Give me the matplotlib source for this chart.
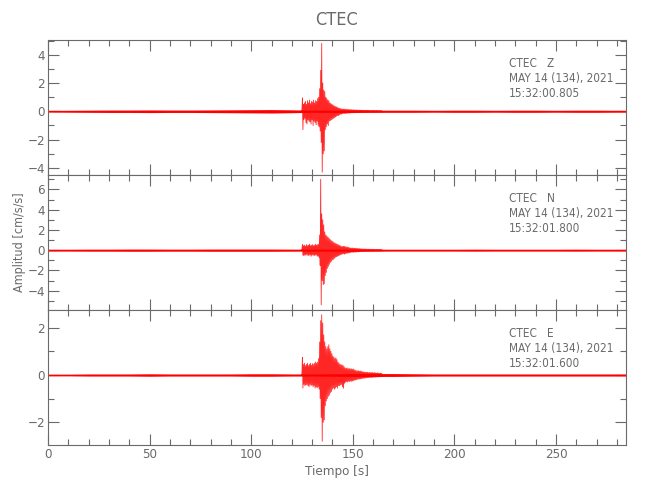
import numpy as np
import matplotlib
matplotlib.use("Agg")
import matplotlib.pyplot as plt
from matplotlib.ticker import MultipleLocator

plt.rcParams['font.family'] = ['DejaVu Sans']
plt.rcParams['font.stretch'] = 'condensed'

# --- datos ---
station = "CTEC"
components = ["Z", "N", "E"]
fecha = "MAY 14 (134), 2021"
horas = ["15:32:00.805", "15:32:01.800", "15:32:01.600"]
t_max = 284.4

# ruido de fondo (cada 10 s)
t_bg = [0, 10, 20, 30, 40, 50, 60, 70, 80, 90, 100, 110, 120, 130, 140,
        150, 160, 170, 180, 190, 200, 210, 220, 230, 240, 250, 260, 270, 280, 284.4]
z_bg = [0.05, 0.06, 0.07, 0.08, 0.08, 0.09, 0.08, 0.08, 0.09, 0.1, 0.11, 0.12, 0.1, 0.07, 0.08,
        0.08, 0.07, 0.07, 0.07, 0.06, 0.07, 0.07, 0.06, 0.07, 0.07, 0.06, 0.07, 0.07, 0.06, 0.06]
n_bg = [0.08, 0.08, 0.09, 0.09, 0.1, 0.1, 0.09, 0.09, 0.1, 0.1, 0.1, 0.1, 0.09, 0.08, 0.09,
        0.09, 0.09, 0.08, 0.08, 0.08, 0.08, 0.09, 0.08, 0.08, 0.08, 0.08, 0.09, 0.08, 0.08, 0.08]
e_bg = [0.03, 0.03, 0.04, 0.04, 0.04, 0.05, 0.04, 0.04, 0.04, 0.04, 0.05, 0.05, 0.04, 0.04, 0.05,
        0.06, 0.06, 0.06, 0.05, 0.04, 0.04, 0.04, 0.04, 0.04, 0.04, 0.04, 0.04, 0.04, 0.04, 0.04]

# evento: maximos / minimos cada 0.5 s desde t0
t0 = 124.7
dt = 0.5
z_hi = [0.05, 0.95, 0.5, 0.6, 0.7, 0.5, 0.75, 0.6, 0.8, 0.55,
        0.7, 0.65, 0.8, 0.6, 0.75, 0.7, 0.9, 1.0, 1.6, 2.9,
        4.8, 2.0, 1.5, 1.4, 1.0, 0.9, 0.8, 0.75, 0.6, 0.55,
        0.5, 0.45, 0.4, 0.35, 0.33, 0.3, 0.25, 0.22, 0.2, 0.18,
        0.16, 0.15, 0.17, 0.14, 0.13, 0.15, 0.12, 0.13, 0.11, 0.12,
        0.1, 0.11, 0.1, 0.09, 0.1, 0.09, 0.08, 0.09, 0.08, 0.08,
        0.08, 0.07, 0.08, 0.07, 0.07, 0.08, 0.07, 0.07, 0.06, 0.07,
        0.06, 0.07, 0.06, 0.06, 0.07, 0.06, 0.06, 0.06, 0.05, 0.06]
z_lo = [-0.05, -1.3, -0.6, -0.5, -0.8, -0.9, -0.6, -0.7, -0.75, -0.9,
        -0.6, -1.0, -0.7, -0.8, -0.95, -0.7, -1.0, -1.1, -1.4, -2.2,
        -4.3, -3.0, -2.8, -1.3, -1.1, -0.9, -1.0, -0.7, -0.65, -0.6,
        -0.55, -0.5, -0.45, -0.4, -0.35, -0.3, -0.3, -0.25, -0.2, -0.2,
        -0.17, -0.15, -0.16, -0.14, -0.15, -0.13, -0.12, -0.13, -0.12, -0.11,
        -0.11, -0.1, -0.1, -0.1, -0.09, -0.09, -0.09, -0.08, -0.08, -0.08,
        -0.07, -0.08, -0.07, -0.07, -0.08, -0.07, -0.07, -0.06, -0.07, -0.06,
        -0.06, -0.06, -0.07, -0.06, -0.06, -0.05, -0.06, -0.05, -0.06, -0.05]
n_hi = [0.05, 0.55, 0.45, 0.5, 0.4, 0.55, 0.45, 0.5, 0.6, 0.45,
        0.5, 0.55, 0.45, 0.5, 0.6, 0.5, 0.55, 0.6, 1.5, 7.0,
        3.6, 3.0, 2.5, 1.8, 1.5, 1.4, 1.3, 1.2, 1.1, 1.0,
        0.9, 0.85, 0.75, 0.7, 0.65, 0.6, 0.55, 0.5, 0.45, 0.4,
        0.35, 0.38, 0.4, 0.35, 0.3, 0.32, 0.28, 0.25, 0.22, 0.2,
        0.22, 0.2, 0.18, 0.2, 0.17, 0.18, 0.15, 0.16, 0.14, 0.13,
        0.12, 0.13, 0.12, 0.11, 0.12, 0.1, 0.11, 0.1, 0.1, 0.09,
        0.1, 0.09, 0.09, 0.08, 0.09, 0.08, 0.08, 0.08, 0.07, 0.08]
n_lo = [-0.05, -0.5, -0.55, -0.45, -0.5, -0.4, -0.55, -0.5, -0.45, -0.6,
        -0.5, -0.45, -0.55, -0.5, -0.45, -0.6, -0.55, -0.7, -1.5, -5.4,
        -3.0, -3.4, -3.3, -2.5, -2.2, -1.8, -1.6, -1.4, -1.2, -1.1,
        -0.95, -0.9, -0.8, -0.7, -0.65, -0.6, -0.55, -0.5, -0.45, -0.4,
        -0.38, -0.35, -0.4, -0.33, -0.3, -0.3, -0.27, -0.25, -0.22, -0.2,
        -0.2, -0.21, -0.18, -0.19, -0.17, -0.16, -0.16, -0.15, -0.14, -0.13,
        -0.13, -0.12, -0.12, -0.11, -0.11, -0.11, -0.1, -0.1, -0.1, -0.1,
        -0.09, -0.1, -0.09, -0.09, -0.08, -0.09, -0.08, -0.08, -0.08, -0.07]
e_hi = [0.03, 0.75, 0.45, 0.5, 0.4, 0.45, 0.5, 0.4, 0.45, 0.5,
        0.42, 0.48, 0.45, 0.5, 0.55, 0.5, 0.55, 0.7, 1.4, 2.3,
        2.55, 2.2, 1.7, 1.4, 1.2, 1.1, 1.2, 1.28, 1.1, 1.0,
        0.9, 0.8, 0.75, 0.7, 0.72, 0.65, 0.55, 0.5, 0.45, 0.44,
        0.42, 0.4, 0.35, 0.3, 0.28, 0.3, 0.26, 0.28, 0.25, 0.27,
        0.24, 0.26, 0.22, 0.2, 0.18, 0.17, 0.18, 0.16, 0.17, 0.15,
        0.14, 0.13, 0.12, 0.12, 0.11, 0.12, 0.1, 0.11, 0.1, 0.1,
        0.11, 0.09, 0.1, 0.09, 0.08, 0.09, 0.08, 0.07, 0.08, 0.07]
e_lo = [-0.03, -0.55, -0.4, -0.45, -0.42, -0.4, -0.45, -0.5, -0.4, -0.45,
        -0.42, -0.5, -0.45, -0.55, -0.5, -0.55, -0.5, -0.6, -1.0, -1.8,
        -2.8, -2.0, -1.9, -1.3, -1.1, -1.0, -0.9, -0.85, -0.75, -0.7,
        -0.6, -0.55, -0.6, -0.55, -0.5, -0.55, -0.45, -0.45, -0.42, -0.4,
        -0.5, -0.56, -0.35, -0.3, -0.28, -0.3, -0.26, -0.28, -0.25, -0.27,
        -0.25, -0.23, -0.22, -0.21, -0.19, -0.18, -0.17, -0.17, -0.16, -0.15,
        -0.14, -0.14, -0.13, -0.12, -0.12, -0.11, -0.11, -0.1, -0.11, -0.1,
        -0.1, -0.09, -0.09, -0.09, -0.08, -0.08, -0.08, -0.07, -0.07, -0.07]

y_limits = [(-4.5, 5.04), (-5.9, 7.42), (-2.96, 2.75)]
y_major = [2, 2, 2]

gris = '#6a6a6a'
rojo = '#ff0000'

fig = plt.figure(figsize=(6.5, 5), dpi=100)
left, right, bottom, top = 0.0738, 0.963, 0.11, 0.92
h = (top - bottom) / 3

bg_list = [z_bg, n_bg, e_bg]
hi_list = [z_hi, n_hi, e_hi]
lo_list = [z_lo, n_lo, e_lo]

axes = []
for i in range(3):
    ax = fig.add_axes([left, top - (i + 1) * h, right - left, h])
    axes.append(ax)
    bg = np.array(bg_list[i])
    ax.fill_between(t_bg, -bg, bg, color=rojo, lw=0)
    ax.plot([0, t_max], [0, 0], color=rojo, lw=1.0)
    hi = np.array(hi_list[i])
    lo = np.array(lo_list[i])
    t = t0 + dt * np.arange(len(hi))
    # serie en zigzag: maximo y minimo alternados
    tz = np.column_stack([t, t + dt / 2]).ravel()
    yz = np.column_stack([hi, lo]).ravel()
    ax.plot(tz, yz, color=rojo, lw=0.6, alpha=0.85)

    ax.set_xlim(0, t_max)
    ax.set_ylim(*y_limits[i])
    ax.xaxis.set_major_locator(MultipleLocator(50))
    ax.xaxis.set_minor_locator(MultipleLocator(10))
    ax.yaxis.set_major_locator(MultipleLocator(y_major[i]))
    ax.yaxis.set_minor_locator(MultipleLocator(1))
    ax.tick_params(which='both', direction='in', top=True, right=True,
                   color=gris, labelcolor=gris, labelsize=9.5, pad=2)
    ax.tick_params(which='major', length=8, width=0.8)
    ax.tick_params(which='minor', length=4, width=0.8)
    for s in ax.spines.values():
        s.set_color(gris)
        s.set_linewidth(0.8)
    if i < 2:
        ax.tick_params(labelbottom=False)

    ax.text(0.797, 0.875, station + "   " + components[i] + "\n" + fecha + "\n" + horas[i],
            transform=ax.transAxes, ha='left', va='top', color=gris,
            fontsize=8.5, linespacing=1.2)

axes[2].set_xlabel("Tiempo [s]", color=gris, fontsize=9.5, labelpad=3)
fig.text(0.03, (top + bottom) / 2, "Amplitud [cm/s/s]", rotation=90,
         ha='center', va='center', color=gris, fontsize=9)
fig.text((left + right) / 2, 0.96, station, ha='center', va='center',
         color=gris, fontsize=13)

fig.savefig("out.png", dpi=100)
